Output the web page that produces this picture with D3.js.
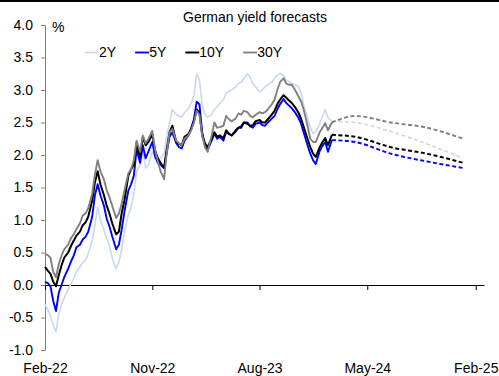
<!DOCTYPE html>
<html>
<head>
<meta charset="utf-8">
<script src="https://cdn.jsdelivr.net/npm/d3@7"></script>
<style>
  body { margin: 0; background: #fff; }
  svg { display: block; font-family: 'Liberation Sans', Arial, sans-serif; }
</style>
</head>
<body>
<svg id="chart" width="499" height="376"></svg>
<script>
// Observed yields, %, read on the 1st, 8th, 15th and 22nd of each month
// from Feb-22 to Jan-24, plus a last reading on 1 Feb 2024.
const obsMonthStart = '2022-02';
const obsMonthEnd = '2024-01';
const obsDays = [1, 8, 15, 22];
const obsLastDate = '2024-02-01';

const hist2Y = [
  -0.3, -0.38, -0.47, -0.62, -0.72, -0.45, -0.3, -0.2, -0.07, 0.02, 0.1, 0.2,
  0.28, 0.35, 0.38, 0.48, 0.68, 0.92, 1.2, 1.0, 0.85, 0.72, 0.6, 0.42,
  0.25, 0.35, 0.55, 0.82, 1.08, 1.2, 1.4, 1.75, 1.85, 2.05, 1.8, 1.85,
  2.05, 1.95, 1.92, 1.95, 2.02, 2.3, 2.5, 2.7, 2.62, 2.6, 2.58, 2.65,
  2.72, 2.8, 2.92, 3.25, 3.15, 2.78, 2.62, 2.58, 2.62, 2.7, 2.74, 2.8,
  2.85, 2.95, 2.98, 3.0, 3.05, 3.1, 3.12, 3.18, 3.25, 3.2, 3.1, 3.05,
  2.97, 3.0, 3.05, 3.08, 3.12, 3.18, 3.23, 3.26, 3.22, 3.15, 3.13, 3.1,
  3.08, 3.05, 2.95, 2.75, 2.58, 2.42, 2.33, 2.36, 2.48, 2.6, 2.7, 2.57,
  2.52,
];
const hist5Y = [
  0.05, 0.03, -0.02, -0.25, -0.4, -0.12, 0.0, 0.12, 0.25, 0.36, 0.45, 0.58,
  0.62, 0.7, 0.74, 0.82, 1.05, 1.38, 1.55, 1.38, 1.22, 1.02, 0.9, 0.75,
  0.55, 0.62, 0.85, 1.12, 1.45, 1.55, 1.68, 2.08, 1.88, 2.15, 1.95, 2.05,
  2.2, 1.98, 1.88, 1.85, 1.8, 2.05, 2.28, 2.35, 2.18, 2.12, 2.1, 2.22,
  2.3, 2.42, 2.55, 2.82, 2.78, 2.35, 2.15, 2.08, 2.22, 2.33, 2.25, 2.28,
  2.22, 2.36, 2.32, 2.3, 2.36, 2.42, 2.44, 2.5, 2.5, 2.44, 2.42, 2.48,
  2.5, 2.46, 2.45, 2.5, 2.56, 2.6, 2.7, 2.78, 2.86, 2.8, 2.76, 2.72,
  2.64, 2.57, 2.47, 2.33, 2.15, 2.02, 1.92, 1.86, 2.06, 2.14, 2.2, 2.05,
  2.23,
];
const hist10Y = [
  0.28, 0.22, 0.17, 0.05, -0.02, 0.15, 0.3, 0.42, 0.5, 0.6, 0.68, 0.76,
  0.82, 0.92, 0.96, 1.05, 1.3, 1.58, 1.75, 1.55, 1.38, 1.22, 1.1, 0.95,
  0.78, 0.82, 1.1, 1.3, 1.68, 1.78, 1.85, 2.18, 1.97, 2.28, 2.15, 2.2,
  2.32, 2.07, 1.95, 1.88, 1.8, 2.1, 2.35, 2.45, 2.2, 2.17, 2.15, 2.28,
  2.32, 2.4, 2.52, 2.7, 2.65, 2.3, 2.18, 2.12, 2.25, 2.35, 2.28, 2.3,
  2.26, 2.38, 2.33, 2.3, 2.38, 2.42, 2.42, 2.5, 2.48, 2.45, 2.46, 2.52,
  2.54, 2.5, 2.5, 2.55, 2.62, 2.68, 2.78, 2.85, 2.92, 2.88, 2.84, 2.8,
  2.72, 2.65, 2.55, 2.42, 2.25, 2.12, 2.02, 1.97, 2.12, 2.2, 2.26, 2.15,
  2.31,
];
const hist30Y = [
  0.48, 0.46, 0.42, 0.2, 0.12, 0.32, 0.45, 0.55, 0.62, 0.72, 0.78, 0.86,
  0.95, 1.07, 1.1, 1.18, 1.4, 1.7, 1.92, 1.75, 1.62, 1.46, 1.35, 1.22,
  1.03, 1.1, 1.25, 1.45, 1.72, 1.78, 1.92, 2.22, 2.05, 2.3, 2.18, 2.25,
  2.37, 2.08, 1.9, 1.75, 1.63, 2.05, 2.35, 2.4, 2.22, 2.18, 2.15, 2.25,
  2.3, 2.38, 2.5, 2.68, 2.62, 2.3, 2.12, 2.05, 2.3, 2.5, 2.42, 2.43,
  2.45, 2.6, 2.55, 2.52, 2.56, 2.64, 2.62, 2.68, 2.66, 2.6, 2.58, 2.62,
  2.66, 2.64, 2.66, 2.7, 2.78, 2.85, 3.0, 3.12, 3.18, 3.1, 3.08, 3.08,
  2.98, 2.9, 2.82, 2.68, 2.45, 2.25, 2.2, 2.2, 2.35, 2.42, 2.49, 2.38,
  2.5,
];

// Forecasts (quarter ends), %
const fcDates = ['2024-02-01', '2024-03-31', '2024-06-30', '2024-09-30', '2024-12-31'];
const fc2Y = [2.52, 2.5, 2.36, 2.17, 1.95];
const fc5Y = [2.23, 2.2, 2.02, 1.9, 1.8];
const fc10Y = [2.31, 2.28, 2.12, 2.02, 1.88];
const fc30Y = [2.5, 2.6, 2.5, 2.42, 2.25];

const seriesNames = ['2Y', '5Y', '10Y', '30Y'];
const yTicks = [-1.0, -0.5, 0.0, 0.5, 1.0, 1.5, 2.0, 2.5, 3.0, 3.5, 4.0];
const xTickDates = ['2022-02-01', '2022-11-01', '2023-08-01', '2024-05-01', '2025-02-01'];

const STYLE = {
  '2Y': { color: '#c6d9f1', width: 1.6 },
  '5Y': { color: '#0000ff', width: 1.9 },
  '10Y': { color: '#000000', width: 2 },
  '30Y': { color: '#808080', width: 1.9 },
};

const FONT_SIZE = 14;
const parse = d3.timeParse('%Y-%m-%d');
const parseMonth = d3.timeParse('%Y-%m');

const obsDates = d3.timeMonths(parseMonth(obsMonthStart), d3.timeMonth.offset(parseMonth(obsMonthEnd), 1))
  .flatMap((m) => obsDays.map((day) => new Date(m.getFullYear(), m.getMonth(), day)))
  .concat([parse(obsLastDate)]);

const svg = d3.select('#chart');

const x = d3.scaleTime()
  .domain([parse('2022-02-01'), parse('2025-02-22')])
  .range([45, 484]);

const y = d3.scaleLinear()
  .domain([-1, 4])
  .range([350, 25]);

const hist = {
  '2Y': hist2Y, '5Y': hist5Y, '10Y': hist10Y, '30Y': hist30Y,
};
const fc = {
  '2Y': fc2Y, '5Y': fc5Y, '10Y': fc10Y, '30Y': fc30Y,
};

// top rule
svg.append('line')
  .attr('x1', 0).attr('x2', 499)
  .attr('y1', 1).attr('y2', 1)
  .attr('stroke', '#000')
  .attr('stroke-width', 2);

// title
svg.append('text')
  .attr('x', 255)
  .attr('y', 22)
  .attr('text-anchor', 'middle')
  .attr('font-size', FONT_SIZE)
  .text('German yield forecasts');

// y axis
const yAxis = svg.append('g')
  .attr('transform', `translate(${x.range()[0]},0)`)
  .call(d3.axisLeft(y)
    .tickValues(yTicks)
    .tickFormat((d) => d.toFixed(1))
    .tickSize(4)
    .tickSizeOuter(0)
    .tickPadding(8));

yAxis.select('.domain').attr('stroke', '#808080');
yAxis.selectAll('.tick line').attr('stroke', '#808080');
yAxis.selectAll('.tick text')
  .attr('fill', '#000')
  .attr('font-size', FONT_SIZE)
  .attr('font-family', 'Liberation Sans, Arial, sans-serif');

svg.append('text')
  .attr('x', 52)
  .attr('y', 32)
  .attr('font-size', FONT_SIZE)
  .text('%');

// x axis along zero, labels at the bottom
const labelBaseline = 373;
const xTickSize = 5;
const xAxis = svg.append('g')
  .attr('transform', `translate(0,${y(0)})`)
  .call(d3.axisBottom(x)
    .tickValues(xTickDates.map(parse))
    .tickFormat(d3.timeFormat('%b-%y'))
    .tickSize(xTickSize)
    .tickSizeOuter(0)
    .tickPadding(labelBaseline - y(0) - xTickSize - 0.71 * FONT_SIZE));

xAxis.select('.domain').attr('stroke', '#000');
xAxis.selectAll('.tick line').attr('stroke', '#000');
xAxis.selectAll('.tick text')
  .attr('fill', '#000')
  .attr('font-size', FONT_SIZE)
  .attr('font-family', 'Liberation Sans, Arial, sans-serif');

// lines
const histLine = d3.line()
  .x((d) => x(d.date))
  .y((d) => y(d.value));

const fcLine = d3.line()
  .x((d) => x(d.date))
  .y((d) => y(d.value))
  .curve(d3.curveMonotoneX);

const plot = svg.append('g');

seriesNames.forEach((name) => {
  const h = obsDates.map((d, i) => ({ date: d, value: hist[name][i] }));
  const f = fcDates.map((d, i) => ({ date: parse(d), value: fc[name][i] }));

  plot.append('path')
    .datum(h)
    .attr('fill', 'none')
    .attr('stroke', STYLE[name].color)
    .attr('stroke-width', STYLE[name].width)
    .attr('stroke-linejoin', 'round')
    .attr('d', histLine);

  plot.append('path')
    .datum(f)
    .attr('fill', 'none')
    .attr('stroke', STYLE[name].color)
    .attr('stroke-width', STYLE[name].width)
    .attr('stroke-dasharray', '4,2.5')
    .attr('d', fcLine);
});

// legend
const legend = svg.append('g');
let lx = 85;
seriesNames.forEach((name) => {
  legend.append('line')
    .attr('x1', lx).attr('x2', lx + 14)
    .attr('y1', 52.5).attr('y2', 52.5)
    .attr('stroke', STYLE[name].color)
    .attr('stroke-width', STYLE[name].width);

  const t = legend.append('text')
    .attr('x', lx + 14)
    .attr('y', 57)
    .attr('font-size', FONT_SIZE)
    .text(name);

  lx += 14 + t.node().getComputedTextLength() + 19;
});
</script>
</body>
</html>
